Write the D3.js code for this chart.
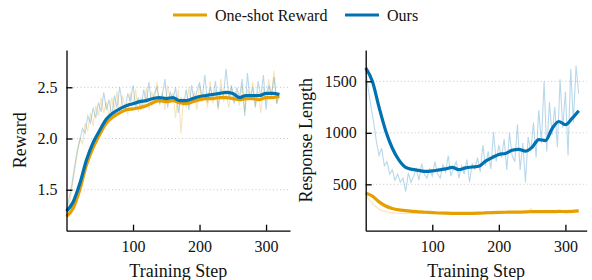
<!DOCTYPE html>
<html>
<head>
<meta charset="utf-8">
<script src="https://cdn.jsdelivr.net/npm/d3@7"></script>
<style>
  body { margin: 0; background: #fff; }
  svg text { font-family: "Liberation Serif", "Times New Roman", serif; fill: #111; }
</style>
</head>
<body>
<div id="chart"></div>
<script>
var svgWidth = 592;
var svgHeight = 280;

// series names + colours
var seriesNames = ["One-shot Reward", "Ours"];
var colors = ["#E69F00", "#0072B2"];

// x grids: raw logged every 4 steps, smoothed curve read every 10 steps
var rawSteps = d3.range(0, 321, 4);
var smoothSteps = d3.range(0, 321, 10);
var xTicks = [100, 200, 300];

// ---- Reward panel ----
var rewardTicks = [1.5, 2.0, 2.5];

var rewardOneShotRaw = [
  1.24, 1.35, 1.50, 1.68, 1.84, 2.00, 1.95, 2.15, 2.08, 2.25,
  2.12, 2.32, 2.22, 2.40, 2.25, 2.36, 2.20, 2.40, 2.28, 2.46,
  2.25, 2.42, 2.30, 2.24, 2.45, 2.32, 2.48, 2.26, 2.40, 2.30,
  2.50, 2.28, 2.46, 2.36, 2.55, 2.32, 2.45, 2.28, 2.52, 2.38,
  2.44, 2.20, 2.48, 2.05, 2.40, 2.30, 2.50, 2.34, 2.46, 2.28,
  2.52, 2.36, 2.45, 2.30, 2.56, 2.34, 2.48, 2.28, 2.58, 2.36,
  2.44, 2.30, 2.50, 2.38, 2.46, 2.32, 2.52, 2.26, 2.48, 2.40,
  2.55, 2.32, 2.46, 2.25, 2.50, 2.36, 2.58, 2.40, 2.66, 2.34,
  2.42
];
var rewardOursRaw = [
  1.30, 1.42, 1.55, 1.72, 1.88, 1.98, 2.10, 2.05, 2.22, 2.15,
  2.30, 2.20, 2.35, 2.26, 2.45, 2.28, 2.38, 2.22, 2.42, 2.30,
  2.50, 2.33, 2.27, 2.44, 2.36, 2.52, 2.30, 2.40, 2.28, 2.48,
  2.35, 2.55, 2.32, 2.44, 2.50, 2.34, 2.42, 2.58, 2.30, 2.45,
  2.38, 2.50, 2.25, 2.40, 2.32, 2.48, 2.28, 2.52, 2.36, 2.46,
  2.55, 2.38, 2.62, 2.35, 2.50, 2.40, 2.56, 2.30, 2.48, 2.42,
  2.68, 2.40, 2.52, 2.34, 2.50, 2.40, 2.58, 2.22, 2.64, 2.38,
  2.50, 2.30, 2.56, 2.40, 2.62, 2.28, 2.52, 2.42, 2.60, 2.34,
  2.45
];
var rewardOneShotSmooth = [
  1.24, 1.32, 1.50, 1.74, 1.91, 2.04, 2.15, 2.21, 2.25, 2.28,
  2.29, 2.30, 2.32, 2.35, 2.37, 2.36, 2.37, 2.35, 2.34, 2.36,
  2.38, 2.39, 2.39, 2.40, 2.40, 2.39, 2.38, 2.39, 2.39, 2.38,
  2.40, 2.40, 2.41
];
var rewardOursSmooth = [
  1.29, 1.38, 1.56, 1.79, 1.96, 2.08, 2.19, 2.25, 2.29, 2.32,
  2.34, 2.36, 2.37, 2.39, 2.40, 2.39, 2.40, 2.37, 2.37, 2.39,
  2.41, 2.42, 2.43, 2.44, 2.45, 2.44, 2.40, 2.42, 2.42, 2.42,
  2.44, 2.44, 2.43
];

// ---- Response length panel ----
var lengthTicks = [500, 1000, 1500];

var lengthOneShotRaw = [
  410, 360, 330, 300, 280, 260, 245, 240, 232, 228,
  225, 222, 220, 218, 218, 216, 220, 222, 215, 225,
  218, 228, 220, 225, 218, 222, 216, 224, 218, 220,
  215, 222, 218, 224, 216, 220, 218, 222, 216, 224,
  220, 226, 218, 228, 222, 240, 224, 230, 226, 232,
  228, 236, 230, 226, 234, 228, 236, 232, 240, 230,
  238, 234, 262, 232, 240, 236, 245, 238, 242, 250,
  236, 244, 238, 248, 240, 246, 238, 244, 240, 250,
  244
];
var lengthOursRaw = [
  1600, 1420, 1250, 1100, 920, 780, 850, 680, 720, 600,
  640, 540, 600, 520, 560, 430, 610, 520, 580, 650,
  540, 700, 600, 560, 650, 580, 720, 600, 560, 690,
  620, 780, 580, 660, 720, 560, 680, 600, 740, 520,
  700, 650, 760, 620, 880, 680, 820, 650, 1010, 720,
  880, 760, 940, 640, 1000, 780, 720, 1080, 640, 900,
  520, 960, 820, 1100, 760, 1220, 900, 1500, 820, 1300,
  980, 1250, 860, 1520, 1050, 1400, 780, 1620, 1100, 1650,
  1380
];
var lengthOneShotSmooth = [
  416, 385, 330, 290, 265, 252, 245, 238, 232, 229,
  226, 222, 220, 219, 219, 219, 219, 220, 223, 226,
  228, 229, 230, 231, 232, 236, 236, 236, 235, 237,
  236, 237, 242
];
var lengthOursSmooth = [
  1630, 1500, 1250, 1020, 850, 735, 665, 645, 635, 625,
  630, 640, 650, 665, 642, 660, 668, 675, 725, 760,
  790, 800, 830, 840, 822, 860, 935, 925, 1040, 1110,
  1080, 1140, 1215
];

var svg = d3.select("#chart")
  .append("svg")
  .attr("width", svgWidth)
  .attr("height", svgHeight);

// panel layout
var panels = [
  {
    left: 66.5, right: 290, top: 50, bottom: 230.7,
    xMax: 336, yDomain: [1.1, 2.864], yTicks: rewardTicks, fmt: ".1f",
    label: "Reward", labelX: 26,
    raw: [rewardOneShotRaw, rewardOursRaw],
    smooth: [rewardOneShotSmooth, rewardOursSmooth]
  },
  {
    left: 365.7, right: 586.7, top: 50, bottom: 230.7,
    xMax: 332, yDomain: [50, 1804], yTicks: lengthTicks, fmt: "d",
    label: "Response Length", labelX: 312,
    raw: [lengthOneShotRaw, lengthOursRaw],
    smooth: [lengthOneShotSmooth, lengthOursSmooth]
  }
];

panels.forEach(function(p) {
  var x = d3.scaleLinear().domain([0, p.xMax]).range([p.left, p.right]);
  var y = d3.scaleLinear().domain(p.yDomain).range([p.bottom, p.top]);

  var g = svg.append("g");

  // dotted horizontal grid
  g.selectAll(".grid")
    .data(p.yTicks)
    .enter()
    .append("line")
    .attr("x1", p.left)
    .attr("x2", p.right)
    .attr("y1", d => y(d))
    .attr("y2", d => y(d))
    .attr("stroke", "#b8b8b8")
    .attr("stroke-width", 0.8)
    .attr("stroke-dasharray", "1,2.5");

  // raw (faint) lines
  p.raw.forEach(function(vals, i) {
    var line = d3.line()
      .x((d, j) => x(rawSteps[j]))
      .y(d => y(d));
    g.append("path")
      .datum(vals)
      .attr("d", line)
      .attr("fill", "none")
      .attr("stroke", colors[i])
      .attr("stroke-opacity", 0.28)
      .attr("stroke-width", 1.1);
  });

  // smoothed lines
  p.smooth.forEach(function(vals, i) {
    var line = d3.line()
      .x((d, j) => x(smoothSteps[j]))
      .y(d => y(d))
      .curve(d3.curveMonotoneX);
    g.append("path")
      .datum(vals)
      .attr("d", line)
      .attr("fill", "none")
      .attr("stroke", colors[i])
      .attr("stroke-width", 3.2)
      .attr("stroke-linejoin", "round");
  });

  // axes with inward ticks
  var xAxis = g.append("g")
    .attr("transform", `translate(0, ${p.bottom})`)
    .call(d3.axisBottom(x).tickValues(xTicks).tickSizeInner(-6).tickSizeOuter(0).tickPadding(9.5));

  var yAxis = g.append("g")
    .attr("transform", `translate(${p.left}, 0)`)
    .call(d3.axisLeft(y).tickValues(p.yTicks).tickFormat(d3.format(p.fmt)).tickSizeInner(-6).tickSizeOuter(0).tickPadding(9));

  [xAxis, yAxis].forEach(function(a) {
    a.attr("font-family", null);
    a.selectAll("path, line").attr("stroke", "#000").attr("stroke-width", 1.3);
    a.selectAll("text")
      .attr("font-size", "16px")
      .attr("fill", "#111");
  });

  // axis labels
  g.append("text")
    .attr("x", (p.left + p.right) / 2)
    .attr("y", 276.5)
    .attr("text-anchor", "middle")
    .attr("font-size", "18px")
    .text("Training Step");

  g.append("text")
    .attr("transform", `translate(${p.labelX}, ${(p.top + p.bottom) / 2}) rotate(-90)`)
    .attr("text-anchor", "middle")
    .attr("font-size", "18px")
    .text(p.label);
});

// legend
var legendItems = [
  {x: 173, name: seriesNames[0], color: colors[0]},
  {x: 345, name: seriesNames[1], color: colors[1]}
];
var legend = svg.append("g");
legendItems.forEach(function(d) {
  legend.append("line")
    .attr("x1", d.x).attr("x2", d.x + 34)
    .attr("y1", 15).attr("y2", 15)
    .attr("stroke", d.color)
    .attr("stroke-width", 3);
  legend.append("text")
    .attr("x", d.x + 42)
    .attr("y", 20.5)
    .attr("font-size", "16px")
    .text(d.name);
});
</script>
</body>
</html>
